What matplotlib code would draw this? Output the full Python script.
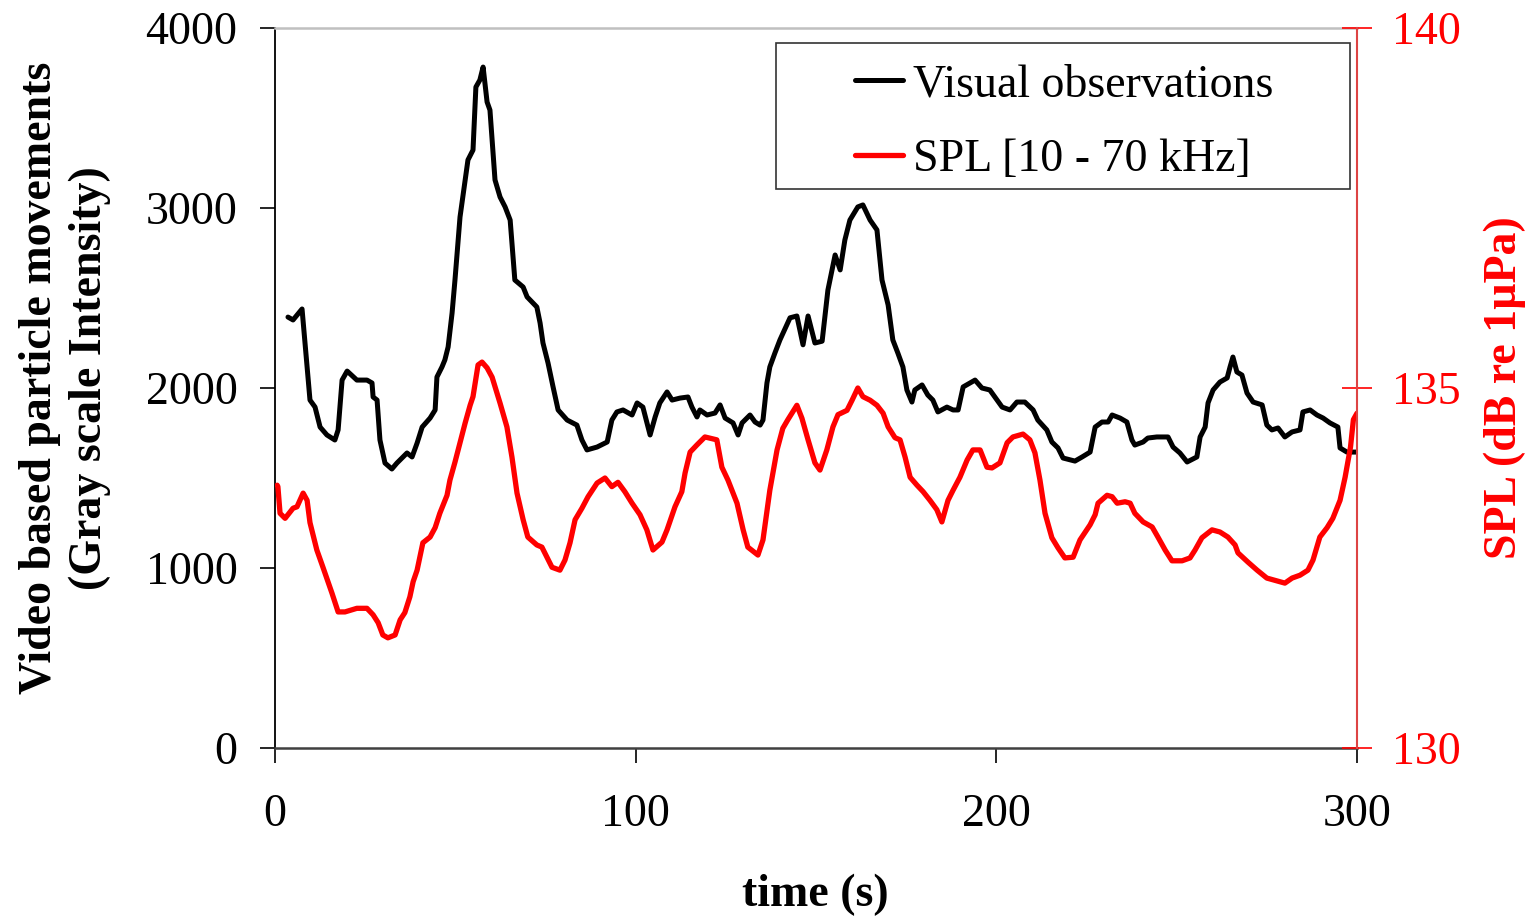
import matplotlib
matplotlib.use("Agg")
import matplotlib.pyplot as plt
from matplotlib.patches import Rectangle

plt.rcParams['font.family'] = ['Liberation Serif', 'DejaVu Serif']

# ---- data ----
vis_t = [3.6, 5.0, 7.5, 8.9, 9.7, 11.1, 12.5, 14.4, 16.6, 17.5, 18.6, 20.0, 22.7, 25.5, 26.9, 27.2,
         28.3, 29.1, 30.5, 32.4, 33.8, 36.6, 38.0, 39.4, 40.8, 43.0, 44.4, 44.9, 46.3, 47.1, 48.0,
         49.1, 49.9, 51.3, 53.5, 54.9, 55.7, 56.8, 57.7, 58.8, 59.6, 61.0, 62.4, 63.8, 65.2, 66.5,
         68.8, 69.9, 72.6, 73.5, 74.3, 75.7, 77.1, 78.5, 81.0, 83.7, 85.1, 86.5, 89.3, 92.1, 93.4,
         94.8, 96.5, 99.0, 100.4, 102.0, 104.0, 105.4, 106.7, 108.7, 110.1, 112.3, 114.5, 115.6,
         117.0, 117.8, 119.8, 122.0, 123.4, 124.8, 127.0, 128.4, 129.5, 131.7, 133.1, 134.5, 135.3,
         136.4, 137.2, 138.6, 140.0, 142.8, 144.7, 146.4, 147.8, 149.7, 151.7, 153.3, 155.3, 156.7,
         158.0, 159.4, 161.6, 163.0, 165.0, 166.9, 168.3, 170.0, 171.3, 172.7, 174.1, 175.2, 176.6,
         177.4, 179.4, 181.0, 182.4, 183.8, 186.3, 188.0, 189.4, 190.8, 194.1, 196.0, 198.2, 200.2,
         201.6, 203.8, 205.7, 207.9, 210.2, 211.5, 214.0, 215.4, 217.1, 218.5, 221.8, 223.8, 226.0,
         227.4, 229.3, 231.0, 232.1, 234.3, 236.2, 237.6, 238.4, 240.7, 242.0, 244.5, 247.6, 249.0,
         250.9, 252.9, 255.6, 256.5, 257.9, 258.7, 260.1, 262.0, 264.0, 264.8, 265.6, 266.7, 268.1,
         269.5, 271.2, 273.7, 275.0, 276.4, 278.1, 280.0, 282.0, 284.2, 285.0, 287.0, 288.9, 290.6,
         292.5, 294.7, 295.3, 297.2, 300.0]
vis_v = [2394, 2378, 2439, 2117, 1933, 1894, 1783, 1739, 1711, 1767, 2044, 2094, 2044, 2044, 2028, 1950,
         1933, 1711, 1583, 1550, 1583, 1639, 1617, 1694, 1783, 1833, 1878, 2061, 2117, 2156, 2228,
         2417, 2600, 2950, 3267, 3322, 3672, 3711, 3783, 3589, 3544, 3156, 3061, 3006, 2933, 2600,
         2561, 2506, 2450, 2361, 2250, 2139, 2006, 1878, 1822, 1794, 1711, 1656, 1672, 1700, 1822,
         1867, 1878, 1850, 1917, 1894, 1739, 1839, 1917, 1978, 1933, 1944, 1950, 1894,
         1839, 1878, 1850, 1861, 1906, 1833, 1806, 1739, 1806, 1850, 1811, 1794, 1822,
         2028, 2117, 2194, 2267, 2390, 2400, 2240, 2400, 2250, 2260, 2544, 2739, 2656,
         2822, 2933, 3006, 3017, 2933, 2878, 2600, 2461, 2267, 2194, 2117, 1989, 1922,
         1989, 2017, 1961, 1933, 1867, 1894, 1878, 1878, 2006, 2044, 2000, 1989, 1933,
         1894, 1878, 1922, 1922, 1878, 1822, 1767, 1700, 1667, 1611, 1594, 1617, 1644,
         1783, 1811, 1811, 1850, 1833, 1811, 1711, 1683, 1700, 1722, 1728, 1728, 1672,
         1639, 1589, 1617, 1728, 1783, 1917, 1989, 2033, 2056, 2117, 2172, 2089, 2072,
         1972, 1922, 1906, 1794, 1767, 1778, 1728, 1756, 1767, 1867, 1878, 1850, 1833,
         1806, 1783, 1667, 1644, 1644]

spl_t = [0.6, 0.8, 1.4, 2.8, 5.0, 6.1, 7.8, 8.9, 9.7, 11.6, 13.3, 15.8, 17.5, 19.4, 22.7, 25.5, 27.2,
         28.6, 29.9, 31.3, 33.3, 34.7, 36.0, 37.4, 38.3, 39.4, 41.0, 43.0, 44.4, 45.7, 47.7, 48.5,
         49.9, 51.3, 52.7, 54.1, 54.9, 56.3, 57.4, 58.8, 60.2, 62.4, 64.3, 65.7, 67.1, 68.8, 70.1,
         72.6, 74.0, 75.4, 76.8, 79.0, 80.4, 81.8, 83.2, 85.1, 86.8, 89.3, 91.5, 93.4, 95.1, 97.0,
         99.0, 101.2, 103.1, 104.8, 107.3, 108.7, 110.9, 112.8, 113.7, 115.1, 117.0, 119.2, 122.5,
         123.9, 125.6, 128.1, 129.8, 131.1, 133.9, 135.3, 137.2, 139.2, 140.8, 142.2, 144.7, 146.1,
         147.8, 149.7, 151.1, 153.0, 154.7, 156.1, 158.6, 160.0, 161.6, 163.0, 165.0, 166.9, 168.6,
         170.0, 171.9, 173.3, 174.7, 176.1, 178.0, 179.7, 181.6, 183.5, 184.9, 186.6, 188.0, 189.9,
         191.9, 193.5, 195.5, 197.4, 198.8, 201.0, 203.0, 204.6, 207.4, 209.3, 210.7, 212.1, 213.5,
         215.4, 217.1, 219.0, 221.3, 223.2, 226.0, 227.4, 228.2, 230.7, 232.1, 233.5, 235.7, 237.1,
         238.4, 240.7, 243.2, 244.8, 246.8, 248.7, 251.5, 253.7, 255.1, 257.0, 259.8, 262.0, 264.2,
         266.2, 267.0, 269.8, 272.3, 275.0, 277.8, 280.0, 282.0, 284.2, 286.4, 287.8, 289.7, 291.7,
         293.3, 295.3, 296.7, 298.2, 299.0, 300.0]
spl_v = [133.65, 133.63, 133.26, 133.19, 133.33, 133.35, 133.54, 133.44, 133.13, 132.75, 132.51, 132.15,
         131.89, 131.89, 131.94, 131.94, 131.85, 131.74, 131.57, 131.53, 131.57, 131.78, 131.88, 132.10,
         132.31, 132.47, 132.85, 132.93, 133.06, 133.26, 133.51, 133.72, 133.97, 134.24, 134.51, 134.76,
         134.88, 135.32, 135.36, 135.28, 135.15, 134.79, 134.46, 134.04, 133.54, 133.17, 132.93, 132.82,
         132.79, 132.65, 132.51, 132.47, 132.61, 132.85, 133.17, 133.33, 133.49, 133.68, 133.75, 133.63,
         133.69, 133.56, 133.40, 133.24, 133.03, 132.75, 132.86, 133.03, 133.35, 133.56, 133.82, 134.11,
         134.21, 134.32, 134.28, 133.90, 133.72, 133.40, 133.03, 132.79, 132.68, 132.89, 133.58, 134.14,
         134.44, 134.56, 134.76, 134.58, 134.28, 133.96, 133.86, 134.14, 134.46, 134.63, 134.69, 134.83,
         135.00, 134.88, 134.83, 134.76, 134.65, 134.46, 134.31, 134.28, 134.04, 133.76, 133.65, 133.56,
         133.44, 133.31, 133.14, 133.44, 133.58, 133.76, 134.00, 134.14, 134.14, 133.90, 133.89, 133.96,
         134.24, 134.32, 134.36, 134.28, 134.10, 133.72, 133.26, 132.92, 132.78, 132.64, 132.65, 132.89,
         133.10, 133.24, 133.40, 133.51, 133.49, 133.40, 133.42, 133.40, 133.26, 133.14, 133.07, 132.93,
         132.75, 132.60, 132.60, 132.64, 132.75, 132.92, 133.03, 133.00, 132.93, 132.82, 132.71, 132.58,
         132.47, 132.36, 132.32, 132.29, 132.36, 132.40, 132.47, 132.61, 132.93, 133.06, 133.19, 133.44,
         133.76, 134.18, 134.56, 134.65]

x_ticks = [0, 100, 200, 300]
y_left_ticks = [0, 1000, 2000, 3000, 4000]
y_right_ticks = [130, 135, 140]
series_labels = ["Visual observations", "SPL [10 - 70 kHz]"]

W, H = 1535, 919
fig = plt.figure(figsize=(W / 100, H / 100), dpi=100)
L, R, B, T = 275, 1357, 748, 28
ax = fig.add_axes([L / W, 1 - B / H, (R - L) / W, (B - T) / H])
ax2 = ax.twinx()

FS = 33
l1, = ax.plot(vis_t, vis_v, color='black', lw=3.6, solid_joinstyle='round', solid_capstyle='round')
l2, = ax2.plot(spl_t, spl_v, color='#ff0000', lw=3.8, solid_joinstyle='round', solid_capstyle='round')

ax.set_xlim(0, 300)
ax.set_ylim(0, 4000)
ax2.set_ylim(130, 140)
ax.set_xticks(x_ticks)
ax.set_yticks(y_left_ticks)
ax2.set_yticks(y_right_ticks)

ax.tick_params(axis='both', direction='out', length=11, width=1.2, color='black',
               labelsize=FS, pad=16)
ax.tick_params(axis='x', pad=22)
ax2.tick_params(axis='y', direction='inout', length=22, width=1.2, colors='#ff0000',
                labelsize=FS, pad=14)

ax.spines['left'].set_color('black'); ax.spines['left'].set_linewidth(1.3)
ax.spines['bottom'].set_color('#404040'); ax.spines['bottom'].set_linewidth(1.8)
ax.spines['top'].set_color('#c0c0c0'); ax.spines['top'].set_linewidth(1.8)
ax.spines['right'].set_visible(False)
for s in ['left', 'top', 'bottom']:
    ax2.spines[s].set_visible(False)
ax2.spines['right'].set_color('#dd4444'); ax2.spines['right'].set_linewidth(1.5)

fig.text(65 / W, 1 - 378 / H, "Video based particle movements\n(Gray scale Intensity)",
         rotation=90, ha='center', va='center', multialignment='center',
         fontsize=FS, fontweight='bold', linespacing=1.25)
fig.text(1505 / W, 1 - 388 / H, "SPL (dB re 1µPa)", rotation=90, ha='center', va='center',
         fontsize=FS, fontweight='bold', color='#ff0000')
fig.text(815 / W, 1 - 895 / H, "time (s)", ha='center', va='center',
         fontsize=FS, fontweight='bold')

# legend frame
fig.patches.append(Rectangle((776 / W, 1 - 189 / H), (1350 - 776) / W, (189 - 43) / H,
                             transform=fig.transFigure, facecolor='white',
                             edgecolor='#333333', linewidth=1.2, zorder=5))
leg = fig.legend([l1, l2], series_labels, loc='upper left',
                 bbox_to_anchor=(855 / W, 1 - 64 / H), frameon=False, fontsize=FS,
                 borderpad=0, borderaxespad=0, handlelength=1.05, handletextpad=0.22,
                 labelspacing=0.69)
leg.set_zorder(6)

fig.savefig("out.png", dpi=100)
